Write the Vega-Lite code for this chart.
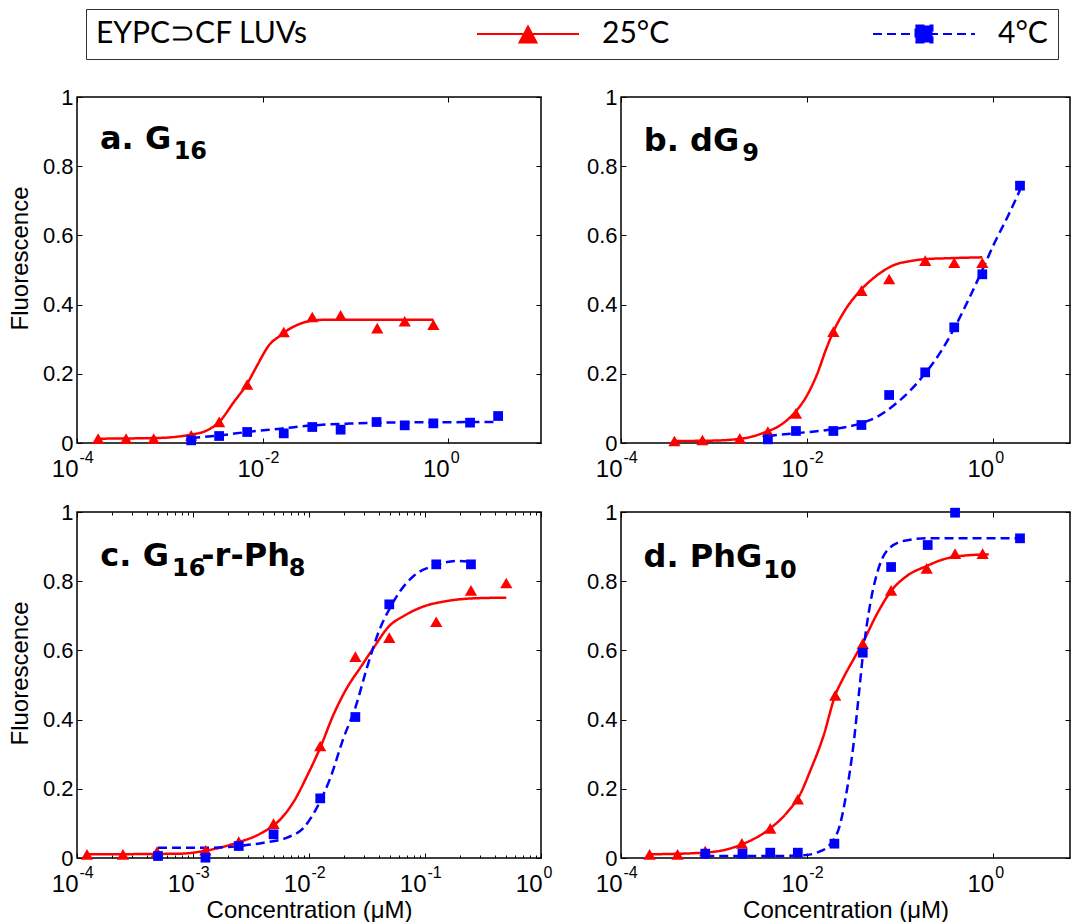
{
  "$schema": "https://vega.github.io/schema/vega-lite/v6.json",
  "background": "white",
  "padding": {"left": 7, "top": 8, "right": 0, "bottom": 0},
  "datasets": {
    "fits": [
      {"panel":"a","temp":"25°C","conc":0.000169,"F":0.0125},{"panel":"a","temp":"25°C","conc":0.000729,"F":0.0145},{"panel":"a","temp":"25°C","conc":0.00167,"F":0.024},{"panel":"a","temp":"25°C","conc":0.00252,"F":0.0366},{"panel":"a","temp":"25°C","conc":0.0034,"F":0.0607},{"panel":"a","temp":"25°C","conc":0.0049,"F":0.1185},{"panel":"a","temp":"25°C","conc":0.00682,"F":0.1715},{"panel":"a","temp":"25°C","conc":0.00875,"F":0.2245},{"panel":"a","temp":"25°C","conc":0.0117,"F":0.2823},{"panel":"a","temp":"25°C","conc":0.0156,"F":0.311},{"panel":"a","temp":"25°C","conc":0.0184,"F":0.3256},{"panel":"a","temp":"25°C","conc":0.0256,"F":0.3449},{"panel":"a","temp":"25°C","conc":0.0357,"F":0.3545},{"panel":"a","temp":"25°C","conc":0.0541,"F":0.3565},{"panel":"a","temp":"25°C","conc":0.692,"F":0.3565},
      {"panel":"a","temp":"4°C","conc":0.0017,"F":0.0145},{"panel":"a","temp":"4°C","conc":0.00352,"F":0.0222},{"panel":"a","temp":"4°C","conc":0.00682,"F":0.0318},{"panel":"a","temp":"4°C","conc":0.0156,"F":0.0414},{"panel":"a","temp":"4°C","conc":0.0357,"F":0.0511},{"panel":"a","temp":"4°C","conc":0.0818,"F":0.0559},{"panel":"a","temp":"4°C","conc":0.187,"F":0.0588},{"panel":"a","temp":"4°C","conc":3.45,"F":0.0607},
      {"panel":"b","temp":"25°C","conc":0.000376,"F":0.0058},{"panel":"b","temp":"25°C","conc":0.000918,"F":0.0067},{"panel":"b","temp":"25°C","conc":0.0021,"F":0.0135},{"panel":"b","temp":"25°C","conc":0.00345,"F":0.0299},{"panel":"b","temp":"25°C","conc":0.00522,"F":0.052},{"panel":"b","temp":"25°C","conc":0.00728,"F":0.0857},{"panel":"b","temp":"25°C","conc":0.0101,"F":0.1387},{"panel":"b","temp":"25°C","conc":0.013,"F":0.2013},{"panel":"b","temp":"25°C","conc":0.016,"F":0.2688},{"panel":"b","temp":"25°C","conc":0.0193,"F":0.3218},{"panel":"b","temp":"25°C","conc":0.0252,"F":0.3796},{"panel":"b","temp":"25°C","conc":0.0387,"F":0.4441},{"panel":"b","temp":"25°C","conc":0.0575,"F":0.4855},{"panel":"b","temp":"25°C","conc":0.0871,"F":0.5145},{"panel":"b","temp":"25°C","conc":0.1315,"F":0.526},{"panel":"b","temp":"25°C","conc":0.199,"F":0.5318},{"panel":"b","temp":"25°C","conc":0.301,"F":0.5337},{"panel":"b","temp":"25°C","conc":0.774,"F":0.5366},
      {"panel":"b","temp":"4°C","conc":0.00381,"F":0.0202},{"panel":"b","temp":"4°C","conc":0.00728,"F":0.0279},{"panel":"b","temp":"4°C","conc":0.0166,"F":0.0376},{"panel":"b","temp":"4°C","conc":0.038,"F":0.0568},{"panel":"b","temp":"4°C","conc":0.0575,"F":0.0761},{"panel":"b","temp":"4°C","conc":0.0871,"F":0.1098},{"panel":"b","temp":"4°C","conc":0.1315,"F":0.1532},{"panel":"b","temp":"4°C","conc":0.188,"F":0.2013},{"panel":"b","temp":"4°C","conc":0.277,"F":0.264},{"panel":"b","temp":"4°C","conc":0.386,"F":0.3314},{"panel":"b","temp":"4°C","conc":0.537,"F":0.4085},{"panel":"b","temp":"4°C","conc":0.774,"F":0.5},{"panel":"b","temp":"4°C","conc":1.042,"F":0.5771},{"panel":"b","temp":"4°C","conc":1.45,"F":0.6541},{"panel":"b","temp":"4°C","conc":1.97,"F":0.7312},
      {"panel":"c","temp":"25°C","conc":0.000122,"F":0.0106},{"panel":"c","temp":"25°C","conc":0.000778,"F":0.0125},{"panel":"c","temp":"25°C","conc":0.00124,"F":0.0202},{"panel":"c","temp":"25°C","conc":0.00239,"F":0.0443},{"panel":"c","temp":"25°C","conc":0.0038,"F":0.0703},{"panel":"c","temp":"25°C","conc":0.00566,"F":0.1118},{"panel":"c","temp":"25°C","conc":0.00738,"F":0.1628},{"panel":"c","temp":"25°C","conc":0.00962,"F":0.237},{"panel":"c","temp":"25°C","conc":0.0125,"F":0.3189},{"panel":"c","temp":"25°C","conc":0.0163,"F":0.4152},{"panel":"c","temp":"25°C","conc":0.0213,"F":0.4923},{"panel":"c","temp":"25°C","conc":0.0277,"F":0.5501},{"panel":"c","temp":"25°C","conc":0.0361,"F":0.6079},{"panel":"c","temp":"25°C","conc":0.0492,"F":0.6705},{"panel":"c","temp":"25°C","conc":0.0655,"F":0.6994},{"panel":"c","temp":"25°C","conc":0.0912,"F":0.7235},{"panel":"c","temp":"25°C","conc":0.155,"F":0.7428},{"panel":"c","temp":"25°C","conc":0.263,"F":0.7505},{"panel":"c","temp":"25°C","conc":0.502,"F":0.7524},
      {"panel":"c","temp":"4°C","conc":0.000499,"F":0.0299},{"panel":"c","temp":"4°C","conc":0.00151,"F":0.0299},{"panel":"c","temp":"4°C","conc":0.00248,"F":0.0347},{"panel":"c","temp":"4°C","conc":0.00406,"F":0.0443},{"panel":"c","temp":"4°C","conc":0.00646,"F":0.0588},{"panel":"c","temp":"4°C","conc":0.009,"F":0.0877},{"panel":"c","temp":"4°C","conc":0.0117,"F":0.1455},{"panel":"c","temp":"4°C","conc":0.0153,"F":0.2322},{"panel":"c","temp":"4°C","conc":0.0199,"F":0.3478},{"panel":"c","temp":"4°C","conc":0.0251,"F":0.4345},{"panel":"c","temp":"4°C","conc":0.0316,"F":0.5501},{"panel":"c","temp":"4°C","conc":0.0412,"F":0.6657},{"panel":"c","temp":"4°C","conc":0.0492,"F":0.7187},{"panel":"c","temp":"4°C","conc":0.0612,"F":0.7717},{"panel":"c","temp":"4°C","conc":0.0798,"F":0.815},{"panel":"c","temp":"4°C","conc":0.125,"F":0.8468},{"panel":"c","temp":"4°C","conc":0.189,"F":0.8584},{"panel":"c","temp":"4°C","conc":0.249,"F":0.8565},
      {"panel":"d","temp":"25°C","conc":0.000203,"F":0.0106},{"panel":"d","temp":"25°C","conc":0.000774,"F":0.0154},{"panel":"d","temp":"25°C","conc":0.00138,"F":0.025},{"panel":"d","temp":"25°C","conc":0.002,"F":0.0395},{"panel":"d","temp":"25°C","conc":0.00404,"F":0.0857},{"panel":"d","temp":"25°C","conc":0.0061,"F":0.131},{"panel":"d","temp":"25°C","conc":0.00847,"F":0.184},{"panel":"d","temp":"25°C","conc":0.01086,"F":0.2514},{"panel":"d","temp":"25°C","conc":0.0151,"F":0.3526},{"panel":"d","temp":"25°C","conc":0.0202,"F":0.4701},{"panel":"d","temp":"25°C","conc":0.0248,"F":0.5212},{"panel":"d","temp":"25°C","conc":0.0318,"F":0.5742},{"panel":"d","temp":"25°C","conc":0.04,"F":0.6224},{"panel":"d","temp":"25°C","conc":0.0566,"F":0.7042},{"panel":"d","temp":"25°C","conc":0.0807,"F":0.7717},{"panel":"d","temp":"25°C","conc":0.119,"F":0.815},{"panel":"d","temp":"25°C","conc":0.195,"F":0.8439},{"panel":"d","temp":"25°C","conc":0.295,"F":0.8632},{"panel":"d","temp":"25°C","conc":0.446,"F":0.8728},{"panel":"d","temp":"25°C","conc":0.906,"F":0.8776},
      {"panel":"d","temp":"4°C","conc":0.000807,"F":0.0058},{"panel":"d","temp":"4°C","conc":0.00208,"F":0.0058},{"panel":"d","temp":"4°C","conc":0.00475,"F":0.0058},{"panel":"d","temp":"4°C","conc":0.0092,"F":0.0077},{"panel":"d","temp":"4°C","conc":0.0128,"F":0.0154},{"panel":"d","temp":"4°C","conc":0.0178,"F":0.0395},{"panel":"d","temp":"4°C","conc":0.0228,"F":0.0973},{"panel":"d","temp":"4°C","conc":0.0269,"F":0.1936},{"panel":"d","temp":"4°C","conc":0.0318,"F":0.3285},{"panel":"d","temp":"4°C","conc":0.036,"F":0.4634},{"panel":"d","temp":"4°C","conc":0.0406,"F":0.5983},{"panel":"d","temp":"4°C","conc":0.048,"F":0.7331},{"panel":"d","temp":"4°C","conc":0.0566,"F":0.8198},{"panel":"d","temp":"4°C","conc":0.0724,"F":0.8873},{"panel":"d","temp":"4°C","conc":0.109,"F":0.9162},{"panel":"d","temp":"4°C","conc":0.195,"F":0.9239},{"panel":"d","temp":"4°C","conc":1.97,"F":0.9239}
    ],
    "points": [
      {"panel":"a","temp":"25°C","conc":0.000169,"F":0.0125},{"panel":"a","temp":"25°C","conc":0.000338,"F":0.0125},{"panel":"a","temp":"25°C","conc":0.000671,"F":0.0125},{"panel":"a","temp":"25°C","conc":0.0017,"F":0.022},{"panel":"a","temp":"25°C","conc":0.0034,"F":0.061},{"panel":"a","temp":"25°C","conc":0.00682,"F":0.169},{"panel":"a","temp":"25°C","conc":0.0169,"F":0.321},{"panel":"a","temp":"25°C","conc":0.0343,"F":0.364},{"panel":"a","temp":"25°C","conc":0.0693,"F":0.369},{"panel":"a","temp":"25°C","conc":0.172,"F":0.332},{"panel":"a","temp":"25°C","conc":0.34,"F":0.352},{"panel":"a","temp":"25°C","conc":0.692,"F":0.342},
      {"panel":"a","temp":"4°C","conc":0.0017,"F":0.0077},{"panel":"a","temp":"4°C","conc":0.0034,"F":0.0202},{"panel":"a","temp":"4°C","conc":0.00682,"F":0.0318},{"panel":"a","temp":"4°C","conc":0.0169,"F":0.0279},{"panel":"a","temp":"4°C","conc":0.0343,"F":0.0462},{"panel":"a","temp":"4°C","conc":0.0693,"F":0.0385},{"panel":"a","temp":"4°C","conc":0.169,"F":0.0607},{"panel":"a","temp":"4°C","conc":0.34,"F":0.051},{"panel":"a","temp":"4°C","conc":0.692,"F":0.0568},{"panel":"a","temp":"4°C","conc":1.72,"F":0.0588},{"panel":"a","temp":"4°C","conc":3.45,"F":0.078},
      {"panel":"b","temp":"25°C","conc":0.000376,"F":0.0058},{"panel":"b","temp":"25°C","conc":0.000753,"F":0.0087},{"panel":"b","temp":"25°C","conc":0.0019,"F":0.0135},{"panel":"b","temp":"25°C","conc":0.00381,"F":0.0328},{"panel":"b","temp":"25°C","conc":0.00764,"F":0.0857},{"panel":"b","temp":"25°C","conc":0.0193,"F":0.3218},{"panel":"b","temp":"25°C","conc":0.0387,"F":0.4403},{"panel":"b","temp":"25°C","conc":0.0769,"F":0.474},{"panel":"b","temp":"25°C","conc":0.188,"F":0.527},{"panel":"b","temp":"25°C","conc":0.386,"F":0.521},{"panel":"b","temp":"25°C","conc":0.774,"F":0.521},
      {"panel":"b","temp":"4°C","conc":0.00381,"F":0.0106},{"panel":"b","temp":"4°C","conc":0.00764,"F":0.0347},{"panel":"b","temp":"4°C","conc":0.0193,"F":0.0347},{"panel":"b","temp":"4°C","conc":0.0387,"F":0.052},{"panel":"b","temp":"4°C","conc":0.0769,"F":0.1387},{"panel":"b","temp":"4°C","conc":0.188,"F":0.2042},{"panel":"b","temp":"4°C","conc":0.386,"F":0.3343},{"panel":"b","temp":"4°C","conc":0.774,"F":0.4875},{"panel":"b","temp":"4°C","conc":1.97,"F":0.7437},
      {"panel":"c","temp":"25°C","conc":0.000122,"F":0.0106},{"panel":"c","temp":"25°C","conc":0.000249,"F":0.0106},{"panel":"c","temp":"25°C","conc":0.00049,"F":0.0183},{"panel":"c","temp":"25°C","conc":0.00128,"F":0.0222},{"panel":"c","temp":"25°C","conc":0.00248,"F":0.0472},{"panel":"c","temp":"25°C","conc":0.00495,"F":0.0992},{"panel":"c","temp":"25°C","conc":0.0125,"F":0.3237},{"panel":"c","temp":"25°C","conc":0.0251,"F":0.5819},{"panel":"c","temp":"25°C","conc":0.0492,"F":0.6368},{"panel":"c","temp":"25°C","conc":0.125,"F":0.683},{"panel":"c","temp":"25°C","conc":0.249,"F":0.7736},{"panel":"c","temp":"25°C","conc":0.502,"F":0.7948},
      {"panel":"c","temp":"4°C","conc":0.000499,"F":0.0058},{"panel":"c","temp":"4°C","conc":0.00128,"F":0.001},{"panel":"c","temp":"4°C","conc":0.00248,"F":0.0347},{"panel":"c","temp":"4°C","conc":0.00495,"F":0.0684},{"panel":"c","temp":"4°C","conc":0.0125,"F":0.1724},{"panel":"c","temp":"4°C","conc":0.0251,"F":0.4075},{"panel":"c","temp":"4°C","conc":0.0492,"F":0.7331},{"panel":"c","temp":"4°C","conc":0.125,"F":0.8487},{"panel":"c","temp":"4°C","conc":0.249,"F":0.8487},
      {"panel":"d","temp":"25°C","conc":0.000203,"F":0.0106},{"panel":"d","temp":"25°C","conc":0.000406,"F":0.0106},{"panel":"d","temp":"25°C","conc":0.000807,"F":0.0202},{"panel":"d","temp":"25°C","conc":0.002,"F":0.0424},{"panel":"d","temp":"25°C","conc":0.00404,"F":0.0857},{"panel":"d","temp":"25°C","conc":0.008,"F":0.1696},{"panel":"d","temp":"25°C","conc":0.0202,"F":0.4701},{"panel":"d","temp":"25°C","conc":0.04,"F":0.6195},{"panel":"d","temp":"25°C","conc":0.0807,"F":0.7736},{"panel":"d","temp":"25°C","conc":0.195,"F":0.8372},{"panel":"d","temp":"25°C","conc":0.394,"F":0.8796},{"panel":"d","temp":"25°C","conc":0.78,"F":0.8796},
      {"panel":"d","temp":"4°C","conc":0.000807,"F":0.0125},{"panel":"d","temp":"4°C","conc":0.00203,"F":0.0125},{"panel":"d","temp":"4°C","conc":0.00404,"F":0.0154},{"panel":"d","temp":"4°C","conc":0.008,"F":0.0154},{"panel":"d","temp":"4°C","conc":0.0198,"F":0.0414},{"panel":"d","temp":"4°C","conc":0.04,"F":0.5934},{"panel":"d","temp":"4°C","conc":0.0807,"F":0.841},{"panel":"d","temp":"4°C","conc":0.2,"F":0.9046},{"panel":"d","temp":"4°C","conc":0.394,"F":0.998},{"panel":"d","temp":"4°C","conc":1.97,"F":0.9239}
    ],
    "labels": [
      {"panel":"a","t1":"a. G","t2":"16"},
      {"panel":"b","t1":"b. dG","t2":"9"},
      {"panel":"c","t1":"c. G","t2":"16","t3":"-r-Ph","t4":"8"},
      {"panel":"d","t1":"d. PhG","t2":"10"}
    ]
  },
  "concat": [
    {
      "width": 464, "height": 346,
      "layer": [
        {
          "data": {"name": "fits"}, "transform": [{"filter": "false"}],
          "mark": {"type": "point", "filled": true},
          "encoding": {
            "fill": {"field": "temp", "type": "nominal", "scale": {"domain": ["25°C", "4°C"], "range": ["#ff0000", "#0000ff"]},
                     "legend": {"orient": "none", "legendX": 9, "legendY": -88, "direction": "horizontal", "title": "EYPC⊃CF LUVs", "titleOrient": "left", "titleFont": "Lato", "titleFontSize": 30, "titleFontWeight": "normal", "titleColor": "black", "titlePadding": 205, "titleLimit": 500, "labelFont": "Lato", "labelFontSize": 30, "labelColor": "black", "labelOffset": 59, "labelLimit": 300, "symbolSize": 400, "symbolStrokeWidth": 2, "symbolOpacity": 1, "columnPadding": 199, "padding": 10, "strokeColor": "#333333", "fillColor": "white"}},
            "stroke": {"field": "temp", "type": "nominal", "scale": {"domain": ["25°C", "4°C"], "range": ["#ff0000", "#0000ff"]},
                     "legend": {"orient": "none", "legendX": 9, "legendY": -88, "direction": "horizontal", "title": "EYPC⊃CF LUVs", "titleOrient": "left", "titleFont": "Lato", "titleFontSize": 30, "titleFontWeight": "normal", "titleColor": "black", "titlePadding": 205, "titleLimit": 500, "labelFont": "Lato", "labelFontSize": 30, "labelColor": "black", "labelOffset": 59, "labelLimit": 300, "symbolSize": 400, "symbolStrokeWidth": 2, "symbolOpacity": 1, "columnPadding": 199, "padding": 10, "strokeColor": "#333333", "fillColor": "white"}},
            "shape": {"field": "temp", "type": "nominal", "scale": {"domain": ["25°C", "4°C"], "range": ["M-5.1,0L5.1,0M0,-0.75L0.85,0.85L-0.85,0.85Z", "M-5.1,0L5.1,0M-0.85,-0.85L0.85,-0.85L0.85,0.85L-0.85,0.85Z"]},
                     "legend": {"orient": "none", "legendX": 9, "legendY": -88, "direction": "horizontal", "title": "EYPC⊃CF LUVs", "titleOrient": "left", "titleFont": "Lato", "titleFontSize": 30, "titleFontWeight": "normal", "titleColor": "black", "titlePadding": 205, "titleLimit": 500, "labelFont": "Lato", "labelFontSize": 30, "labelColor": "black", "labelOffset": 59, "labelLimit": 300, "symbolSize": 400, "symbolStrokeWidth": 2, "symbolOpacity": 1, "columnPadding": 199, "padding": 10, "strokeColor": "#333333", "fillColor": "white"}},
            "strokeDash": {"field": "temp", "type": "nominal", "scale": {"domain": ["25°C", "4°C"], "range": [[1, 0], [9, 5]]},
                     "legend": {"orient": "none", "legendX": 9, "legendY": -88, "direction": "horizontal", "title": "EYPC⊃CF LUVs", "titleOrient": "left", "titleFont": "Lato", "titleFontSize": 30, "titleFontWeight": "normal", "titleColor": "black", "titlePadding": 205, "titleLimit": 500, "labelFont": "Lato", "labelFontSize": 30, "labelColor": "black", "labelOffset": 59, "labelLimit": 300, "symbolSize": 400, "symbolStrokeWidth": 2, "symbolOpacity": 1, "columnPadding": 199, "padding": 10, "strokeColor": "#333333", "fillColor": "white"}}
          }
        },
        {
          "data": {"name": "fits"}, "transform": [{"filter": "datum.panel === 'a'"}],
          "mark": {"type": "line", "strokeWidth": 2.5, "interpolate": "monotone"},
          "encoding": {
            "x": {"field": "conc", "type": "quantitative", "scale": {"type": "log", "domain": [0.0001, 10], "nice": false},
                  "axis": {"orient": "bottom", "values": [0.0001, 0.01, 1], "tickSize": -5, "labelExpr": "'10'", "labelAlign": "right", "labelOffset": 1, "labelFont": "Liberation Sans Narrow, Liberation Sans", "labelFontSize": 24, "labelPadding": 19, "title": null}},
            "y": {"field": "F", "type": "quantitative", "scale": {"domain": [0, 1], "nice": false, "zero": false},
                  "axis": {"orient": "left", "values": [0, 0.2, 0.4, 0.6, 0.8, 1], "format": "~g", "tickSize": -5, "labelFontSize": 22, "labelPadding": 9, "title": "Fluorescence", "titleFont": "Liberation Sans Narrow, Liberation Sans", "titleFontSize": 24, "titlePadding": 10, "titleY": 161}},
            "color": {"field": "temp", "type": "nominal", "scale": {"domain": ["25°C", "4°C"], "range": ["#ff0000", "#0000ff"]}, "legend": null},
            "strokeDash": {"field": "temp", "type": "nominal", "scale": {"domain": ["25°C", "4°C"], "range": [[1, 0], [9, 5]]}, "legend": null}
          }
        },
        {
          "data": {"name": "points"}, "transform": [{"filter": "datum.panel === 'a' && datum.temp === '25°C'"}],
          "mark": {"type": "point", "shape": "triangle-up", "size": 150, "filled": true, "opacity": 1, "strokeWidth": 0},
          "encoding": {
            "x": {"field": "conc", "type": "quantitative", "scale": {"type": "log", "domain": [0.0001, 10], "nice": false}, "axis": null},
            "y": {"field": "F", "type": "quantitative", "scale": {"domain": [0, 1], "nice": false, "zero": false}, "axis": null},
            "color": {"field": "temp", "type": "nominal", "scale": {"domain": ["25°C", "4°C"], "range": ["#ff0000", "#0000ff"]}, "legend": null}
          }
        },
        {
          "data": {"name": "points"}, "transform": [{"filter": "datum.panel === 'a' && datum.temp === '4°C'"}],
          "mark": {"type": "point", "shape": "square", "size": 95, "filled": true, "opacity": 1, "strokeWidth": 0},
          "encoding": {
            "x": {"field": "conc", "type": "quantitative", "scale": {"type": "log", "domain": [0.0001, 10], "nice": false}, "axis": null},
            "y": {"field": "F", "type": "quantitative", "scale": {"domain": [0, 1], "nice": false, "zero": false}, "axis": null},
            "color": {"field": "temp", "type": "nominal", "scale": {"domain": ["25°C", "4°C"], "range": ["#ff0000", "#0000ff"]}, "legend": null}
          }
        },
        {
          "data": {"name": "fits"}, "transform": [{"filter": "datum.panel === 'a'"}],
          "mark": {"type": "point", "opacity": 0},
          "encoding": {
            "x": {"field": "conc", "type": "quantitative", "scale": {"type": "log", "domain": [0.0001, 10], "nice": false},
                  "axis": {"orient": "top", "values": [0.0001, 0.01, 1], "tickSize": -5, "labels": false, "title": null}},
            "y": {"field": "F", "type": "quantitative", "scale": {"domain": [0, 1], "nice": false, "zero": false},
                  "axis": {"orient": "right", "values": [0, 0.2, 0.4, 0.6, 0.8, 1], "tickSize": -5, "labels": false, "title": null}}
          }
        },
        {
          "data": {"name": "fits"}, "transform": [{"filter": "datum.panel === 'a'"}],
          "mark": {"type": "point", "opacity": 0},
          "encoding": {
            "x": {"field": "conc", "type": "quantitative", "scale": {"type": "log", "domain": [0.0001, 10], "nice": false},
                  "axis": {"orient": "bottom", "values": [0.0001, 0.01, 1], "ticks": false, "labelExpr": "'' + round(log(datum.value) / LN10)", "labelAlign": "left", "labelOffset": 2, "labelFontSize": 16, "labelPadding": 6, "title": null}},
            "y": {"field": "F", "type": "quantitative", "scale": {"domain": [0, 1], "nice": false, "zero": false}, "axis": null}
          }
        },
        {
          "data": {"name": "labels"}, "transform": [{"filter": "datum.panel === 'a'"}],
          "mark": {"type": "text", "font": "DejaVu Sans", "fontWeight": "bold", "fontSize": 32, "align": "left", "baseline": "alphabetic", "color": "black"},
          "encoding": {
            "x": {"datum": 0.000177, "type": "quantitative", "scale": {"type": "log", "domain": [0.0001, 10], "nice": false}, "axis": null},
            "y": {"datum": 0.85, "type": "quantitative", "scale": {"domain": [0, 1], "nice": false, "zero": false}, "axis": null},
            "text": {"field": "t1"}
          }
        },
        {
          "data": {"name": "labels"}, "transform": [{"filter": "datum.panel === 'a'"}],
          "mark": {"type": "text", "font": "DejaVu Sans", "fontWeight": "bold", "fontSize": 24, "align": "left", "baseline": "alphabetic", "color": "black"},
          "encoding": {
            "x": {"datum": 0.0011, "type": "quantitative", "scale": {"type": "log", "domain": [0.0001, 10], "nice": false}, "axis": null},
            "y": {"datum": 0.82, "type": "quantitative", "scale": {"domain": [0, 1], "nice": false, "zero": false}, "axis": null},
            "text": {"field": "t2"}
          }
        }
      ],
      "resolve": {"axis": {"x": "independent", "y": "independent"}}
    },
    {
      "width": 449, "height": 346,
      "layer": [
        {
          "data": {"name": "fits"}, "transform": [{"filter": "datum.panel === 'b'"}],
          "mark": {"type": "line", "strokeWidth": 2.5, "interpolate": "monotone"},
          "encoding": {
            "x": {"field": "conc", "type": "quantitative", "scale": {"type": "log", "domain": [0.0001, 6.8], "nice": false},
                  "axis": {"orient": "bottom", "values": [0.0001, 0.01, 1], "tickSize": -5, "labelExpr": "'10'", "labelAlign": "right", "labelOffset": 1, "labelFont": "Liberation Sans Narrow, Liberation Sans", "labelFontSize": 24, "labelPadding": 19, "title": null}},
            "y": {"field": "F", "type": "quantitative", "scale": {"domain": [0, 1], "nice": false, "zero": false},
                  "axis": {"orient": "left", "values": [0, 0.2, 0.4, 0.6, 0.8, 1], "format": "~g", "tickSize": -5, "labelFontSize": 22, "labelPadding": 9, "title": null}},
            "color": {"field": "temp", "type": "nominal", "scale": {"domain": ["25°C", "4°C"], "range": ["#ff0000", "#0000ff"]}, "legend": null},
            "strokeDash": {"field": "temp", "type": "nominal", "scale": {"domain": ["25°C", "4°C"], "range": [[1, 0], [9, 5]]}, "legend": null}
          }
        },
        {
          "data": {"name": "points"}, "transform": [{"filter": "datum.panel === 'b' && datum.temp === '25°C'"}],
          "mark": {"type": "point", "shape": "triangle-up", "size": 150, "filled": true, "opacity": 1, "strokeWidth": 0},
          "encoding": {
            "x": {"field": "conc", "type": "quantitative", "scale": {"type": "log", "domain": [0.0001, 6.8], "nice": false}, "axis": null},
            "y": {"field": "F", "type": "quantitative", "scale": {"domain": [0, 1], "nice": false, "zero": false}, "axis": null},
            "color": {"field": "temp", "type": "nominal", "scale": {"domain": ["25°C", "4°C"], "range": ["#ff0000", "#0000ff"]}, "legend": null}
          }
        },
        {
          "data": {"name": "points"}, "transform": [{"filter": "datum.panel === 'b' && datum.temp === '4°C'"}],
          "mark": {"type": "point", "shape": "square", "size": 95, "filled": true, "opacity": 1, "strokeWidth": 0},
          "encoding": {
            "x": {"field": "conc", "type": "quantitative", "scale": {"type": "log", "domain": [0.0001, 6.8], "nice": false}, "axis": null},
            "y": {"field": "F", "type": "quantitative", "scale": {"domain": [0, 1], "nice": false, "zero": false}, "axis": null},
            "color": {"field": "temp", "type": "nominal", "scale": {"domain": ["25°C", "4°C"], "range": ["#ff0000", "#0000ff"]}, "legend": null}
          }
        },
        {
          "data": {"name": "fits"}, "transform": [{"filter": "datum.panel === 'b'"}],
          "mark": {"type": "point", "opacity": 0},
          "encoding": {
            "x": {"field": "conc", "type": "quantitative", "scale": {"type": "log", "domain": [0.0001, 6.8], "nice": false},
                  "axis": {"orient": "top", "values": [0.0001, 0.01, 1], "tickSize": -5, "labels": false, "title": null}},
            "y": {"field": "F", "type": "quantitative", "scale": {"domain": [0, 1], "nice": false, "zero": false},
                  "axis": {"orient": "right", "values": [0, 0.2, 0.4, 0.6, 0.8, 1], "tickSize": -5, "labels": false, "title": null}}
          }
        },
        {
          "data": {"name": "fits"}, "transform": [{"filter": "datum.panel === 'b'"}],
          "mark": {"type": "point", "opacity": 0},
          "encoding": {
            "x": {"field": "conc", "type": "quantitative", "scale": {"type": "log", "domain": [0.0001, 6.8], "nice": false},
                  "axis": {"orient": "bottom", "values": [0.0001, 0.01, 1], "ticks": false, "labelExpr": "'' + round(log(datum.value) / LN10)", "labelAlign": "left", "labelOffset": 2, "labelFontSize": 16, "labelPadding": 6, "title": null}},
            "y": {"field": "F", "type": "quantitative", "scale": {"domain": [0, 1], "nice": false, "zero": false}, "axis": null}
          }
        },
        {
          "data": {"name": "labels"}, "transform": [{"filter": "datum.panel === 'b'"}],
          "mark": {"type": "text", "font": "DejaVu Sans", "fontWeight": "bold", "fontSize": 32, "align": "left", "baseline": "alphabetic", "color": "black"},
          "encoding": {
            "x": {"datum": 0.000176, "type": "quantitative", "scale": {"type": "log", "domain": [0.0001, 6.8], "nice": false}, "axis": null},
            "y": {"datum": 0.844, "type": "quantitative", "scale": {"domain": [0, 1], "nice": false, "zero": false}, "axis": null},
            "text": {"field": "t1"}
          }
        },
        {
          "data": {"name": "labels"}, "transform": [{"filter": "datum.panel === 'b'"}],
          "mark": {"type": "text", "font": "DejaVu Sans", "fontWeight": "bold", "fontSize": 24, "align": "left", "baseline": "alphabetic", "color": "black"},
          "encoding": {
            "x": {"datum": 0.00202, "type": "quantitative", "scale": {"type": "log", "domain": [0.0001, 6.8], "nice": false}, "axis": null},
            "y": {"datum": 0.815, "type": "quantitative", "scale": {"domain": [0, 1], "nice": false, "zero": false}, "axis": null},
            "text": {"field": "t2"}
          }
        }
      ],
      "resolve": {"axis": {"x": "independent", "y": "independent"}}
    },
    {
      "width": 464, "height": 346,
      "layer": [
        {
          "data": {"name": "fits"}, "transform": [{"filter": "datum.panel === 'c'"}],
          "mark": {"type": "line", "strokeWidth": 2.5, "interpolate": "monotone"},
          "encoding": {
            "x": {"field": "conc", "type": "quantitative", "scale": {"type": "log", "domain": [0.0001, 1], "nice": false},
                  "axis": {"orient": "bottom", "values": [0.0001, 0.001, 0.01, 0.1, 1], "tickSize": -5, "labelExpr": "'10'", "labelAlign": "right", "labelOffset": 1, "labelFont": "Liberation Sans Narrow, Liberation Sans", "labelFontSize": 24, "labelPadding": 19, "title": "Concentration (μM)", "titleFontSize": 24, "titlePadding": 2}},
            "y": {"field": "F", "type": "quantitative", "scale": {"domain": [0, 1], "nice": false, "zero": false},
                  "axis": {"orient": "left", "values": [0, 0.2, 0.4, 0.6, 0.8, 1], "format": "~g", "tickSize": -5, "labelFontSize": 22, "labelPadding": 9, "title": "Fluorescence", "titleFont": "Liberation Sans Narrow, Liberation Sans", "titleFontSize": 24, "titlePadding": 10, "titleY": 161}},
            "color": {"field": "temp", "type": "nominal", "scale": {"domain": ["25°C", "4°C"], "range": ["#ff0000", "#0000ff"]}, "legend": null},
            "strokeDash": {"field": "temp", "type": "nominal", "scale": {"domain": ["25°C", "4°C"], "range": [[1, 0], [9, 5]]}, "legend": null}
          }
        },
        {
          "data": {"name": "points"}, "transform": [{"filter": "datum.panel === 'c' && datum.temp === '25°C'"}],
          "mark": {"type": "point", "shape": "triangle-up", "size": 150, "filled": true, "opacity": 1, "strokeWidth": 0},
          "encoding": {
            "x": {"field": "conc", "type": "quantitative", "scale": {"type": "log", "domain": [0.0001, 1], "nice": false}, "axis": null},
            "y": {"field": "F", "type": "quantitative", "scale": {"domain": [0, 1], "nice": false, "zero": false}, "axis": null},
            "color": {"field": "temp", "type": "nominal", "scale": {"domain": ["25°C", "4°C"], "range": ["#ff0000", "#0000ff"]}, "legend": null}
          }
        },
        {
          "data": {"name": "points"}, "transform": [{"filter": "datum.panel === 'c' && datum.temp === '4°C'"}],
          "mark": {"type": "point", "shape": "square", "size": 95, "filled": true, "opacity": 1, "strokeWidth": 0},
          "encoding": {
            "x": {"field": "conc", "type": "quantitative", "scale": {"type": "log", "domain": [0.0001, 1], "nice": false}, "axis": null},
            "y": {"field": "F", "type": "quantitative", "scale": {"domain": [0, 1], "nice": false, "zero": false}, "axis": null},
            "color": {"field": "temp", "type": "nominal", "scale": {"domain": ["25°C", "4°C"], "range": ["#ff0000", "#0000ff"]}, "legend": null}
          }
        },
        {
          "data": {"name": "fits"}, "transform": [{"filter": "datum.panel === 'c'"}],
          "mark": {"type": "point", "opacity": 0},
          "encoding": {
            "x": {"field": "conc", "type": "quantitative", "scale": {"type": "log", "domain": [0.0001, 1], "nice": false},
                  "axis": {"orient": "top", "values": [0.0001, 0.001, 0.01, 0.1, 1], "tickSize": -5, "labels": false, "title": null}},
            "y": {"field": "F", "type": "quantitative", "scale": {"domain": [0, 1], "nice": false, "zero": false},
                  "axis": {"orient": "right", "values": [0, 0.2, 0.4, 0.6, 0.8, 1], "tickSize": -5, "labels": false, "title": null}}
          }
        },
        {
          "data": {"name": "fits"}, "transform": [{"filter": "datum.panel === 'c'"}],
          "mark": {"type": "point", "opacity": 0},
          "encoding": {
            "x": {"field": "conc", "type": "quantitative", "scale": {"type": "log", "domain": [0.0001, 1], "nice": false},
                  "axis": {"orient": "bottom", "values": [0.0001, 0.001, 0.01, 0.1, 1], "ticks": false, "labelExpr": "'' + round(log(datum.value) / LN10)", "labelAlign": "left", "labelOffset": 2, "labelFontSize": 16, "labelPadding": 6, "title": null}},
            "y": {"field": "F", "type": "quantitative", "scale": {"domain": [0, 1], "nice": false, "zero": false}, "axis": null}
          }
        },
        {
          "data": {"name": "fits"}, "transform": [{"filter": "datum.panel === 'c'"}],
          "mark": {"type": "point", "opacity": 0},
          "encoding": {
            "x": {"field": "conc", "type": "quantitative", "scale": {"type": "log", "domain": [0.0001, 1], "nice": false},
                  "axis": {"orient": "bottom", "values": [0.0002,0.0003,0.0004,0.0005,0.0006,0.0007,0.0008,0.0009,0.002,0.003,0.004,0.005,0.006,0.007,0.008,0.009,0.02,0.03,0.04,0.05,0.06,0.07,0.08,0.09,0.2,0.3,0.4,0.5,0.6,0.7,0.8,0.9], "tickSize": -3, "labels": false, "title": null}},
            "y": {"field": "F", "type": "quantitative", "scale": {"domain": [0, 1], "nice": false, "zero": false}, "axis": null}
          }
        },
        {
          "data": {"name": "fits"}, "transform": [{"filter": "datum.panel === 'c'"}],
          "mark": {"type": "point", "opacity": 0},
          "encoding": {
            "x": {"field": "conc", "type": "quantitative", "scale": {"type": "log", "domain": [0.0001, 1], "nice": false},
                  "axis": {"orient": "top", "values": [0.0002,0.0003,0.0004,0.0005,0.0006,0.0007,0.0008,0.0009,0.002,0.003,0.004,0.005,0.006,0.007,0.008,0.009,0.02,0.03,0.04,0.05,0.06,0.07,0.08,0.09,0.2,0.3,0.4,0.5,0.6,0.7,0.8,0.9], "tickSize": -3, "labels": false, "title": null}},
            "y": {"field": "F", "type": "quantitative", "scale": {"domain": [0, 1], "nice": false, "zero": false}, "axis": null}
          }
        },
        {
          "data": {"name": "labels"}, "transform": [{"filter": "datum.panel === 'c'"}],
          "mark": {"type": "text", "font": "DejaVu Sans", "fontWeight": "bold", "fontSize": 32, "align": "left", "baseline": "alphabetic", "color": "black"},
          "encoding": {
            "x": {"datum": 0.000159, "type": "quantitative", "scale": {"type": "log", "domain": [0.0001, 1], "nice": false}, "axis": null},
            "y": {"datum": 0.844, "type": "quantitative", "scale": {"domain": [0, 1], "nice": false, "zero": false}, "axis": null},
            "text": {"field": "t1"}
          }
        },
        {
          "data": {"name": "labels"}, "transform": [{"filter": "datum.panel === 'c'"}],
          "mark": {"type": "text", "font": "DejaVu Sans", "fontWeight": "bold", "fontSize": 24, "align": "left", "baseline": "alphabetic", "color": "black"},
          "encoding": {
            "x": {"datum": 0.000659, "type": "quantitative", "scale": {"type": "log", "domain": [0.0001, 1], "nice": false}, "axis": null},
            "y": {"datum": 0.815, "type": "quantitative", "scale": {"domain": [0, 1], "nice": false, "zero": false}, "axis": null},
            "text": {"field": "t2"}
          }
        },
        {
          "data": {"name": "labels"}, "transform": [{"filter": "datum.panel === 'c'"}],
          "mark": {"type": "text", "font": "DejaVu Sans", "fontWeight": "bold", "fontSize": 32, "align": "left", "baseline": "alphabetic", "color": "black"},
          "encoding": {
            "x": {"datum": 0.00118, "type": "quantitative", "scale": {"type": "log", "domain": [0.0001, 1], "nice": false}, "axis": null},
            "y": {"datum": 0.844, "type": "quantitative", "scale": {"domain": [0, 1], "nice": false, "zero": false}, "axis": null},
            "text": {"field": "t3"}
          }
        },
        {
          "data": {"name": "labels"}, "transform": [{"filter": "datum.panel === 'c'"}],
          "mark": {"type": "text", "font": "DejaVu Sans", "fontWeight": "bold", "fontSize": 24, "align": "left", "baseline": "alphabetic", "color": "black"},
          "encoding": {
            "x": {"datum": 0.00669, "type": "quantitative", "scale": {"type": "log", "domain": [0.0001, 1], "nice": false}, "axis": null},
            "y": {"datum": 0.815, "type": "quantitative", "scale": {"domain": [0, 1], "nice": false, "zero": false}, "axis": null},
            "text": {"field": "t4"}
          }
        }
      ],
      "resolve": {"axis": {"x": "independent", "y": "independent"}}
    },
    {
      "width": 449, "height": 346,
      "layer": [
        {
          "data": {"name": "fits"}, "transform": [{"filter": "datum.panel === 'd'"}],
          "mark": {"type": "line", "strokeWidth": 2.5, "interpolate": "monotone"},
          "encoding": {
            "x": {"field": "conc", "type": "quantitative", "scale": {"type": "log", "domain": [0.0001, 6.8], "nice": false},
                  "axis": {"orient": "bottom", "values": [0.0001, 0.01, 1], "tickSize": -5, "labelExpr": "'10'", "labelAlign": "right", "labelOffset": 1, "labelFont": "Liberation Sans Narrow, Liberation Sans", "labelFontSize": 24, "labelPadding": 19, "title": "Concentration (μM)", "titleFontSize": 24, "titlePadding": 2}},
            "y": {"field": "F", "type": "quantitative", "scale": {"domain": [0, 1], "nice": false, "zero": false},
                  "axis": {"orient": "left", "values": [0, 0.2, 0.4, 0.6, 0.8, 1], "format": "~g", "tickSize": -5, "labelFontSize": 22, "labelPadding": 9, "title": null}},
            "color": {"field": "temp", "type": "nominal", "scale": {"domain": ["25°C", "4°C"], "range": ["#ff0000", "#0000ff"]}, "legend": null},
            "strokeDash": {"field": "temp", "type": "nominal", "scale": {"domain": ["25°C", "4°C"], "range": [[1, 0], [9, 5]]}, "legend": null}
          }
        },
        {
          "data": {"name": "points"}, "transform": [{"filter": "datum.panel === 'd' && datum.temp === '25°C'"}],
          "mark": {"type": "point", "shape": "triangle-up", "size": 150, "filled": true, "opacity": 1, "strokeWidth": 0},
          "encoding": {
            "x": {"field": "conc", "type": "quantitative", "scale": {"type": "log", "domain": [0.0001, 6.8], "nice": false}, "axis": null},
            "y": {"field": "F", "type": "quantitative", "scale": {"domain": [0, 1], "nice": false, "zero": false}, "axis": null},
            "color": {"field": "temp", "type": "nominal", "scale": {"domain": ["25°C", "4°C"], "range": ["#ff0000", "#0000ff"]}, "legend": null}
          }
        },
        {
          "data": {"name": "points"}, "transform": [{"filter": "datum.panel === 'd' && datum.temp === '4°C'"}],
          "mark": {"type": "point", "shape": "square", "size": 95, "filled": true, "opacity": 1, "strokeWidth": 0},
          "encoding": {
            "x": {"field": "conc", "type": "quantitative", "scale": {"type": "log", "domain": [0.0001, 6.8], "nice": false}, "axis": null},
            "y": {"field": "F", "type": "quantitative", "scale": {"domain": [0, 1], "nice": false, "zero": false}, "axis": null},
            "color": {"field": "temp", "type": "nominal", "scale": {"domain": ["25°C", "4°C"], "range": ["#ff0000", "#0000ff"]}, "legend": null}
          }
        },
        {
          "data": {"name": "fits"}, "transform": [{"filter": "datum.panel === 'd'"}],
          "mark": {"type": "point", "opacity": 0},
          "encoding": {
            "x": {"field": "conc", "type": "quantitative", "scale": {"type": "log", "domain": [0.0001, 6.8], "nice": false},
                  "axis": {"orient": "top", "values": [0.0001, 0.01, 1], "tickSize": -5, "labels": false, "title": null}},
            "y": {"field": "F", "type": "quantitative", "scale": {"domain": [0, 1], "nice": false, "zero": false},
                  "axis": {"orient": "right", "values": [0, 0.2, 0.4, 0.6, 0.8, 1], "tickSize": -5, "labels": false, "title": null}}
          }
        },
        {
          "data": {"name": "fits"}, "transform": [{"filter": "datum.panel === 'd'"}],
          "mark": {"type": "point", "opacity": 0},
          "encoding": {
            "x": {"field": "conc", "type": "quantitative", "scale": {"type": "log", "domain": [0.0001, 6.8], "nice": false},
                  "axis": {"orient": "bottom", "values": [0.0001, 0.01, 1], "ticks": false, "labelExpr": "'' + round(log(datum.value) / LN10)", "labelAlign": "left", "labelOffset": 2, "labelFontSize": 16, "labelPadding": 6, "title": null}},
            "y": {"field": "F", "type": "quantitative", "scale": {"domain": [0, 1], "nice": false, "zero": false}, "axis": null}
          }
        },
        {
          "data": {"name": "labels"}, "transform": [{"filter": "datum.panel === 'd'"}],
          "mark": {"type": "text", "font": "DejaVu Sans", "fontWeight": "bold", "fontSize": 32, "align": "left", "baseline": "alphabetic", "color": "black"},
          "encoding": {
            "x": {"datum": 0.000175, "type": "quantitative", "scale": {"type": "log", "domain": [0.0001, 6.8], "nice": false}, "axis": null},
            "y": {"datum": 0.841, "type": "quantitative", "scale": {"domain": [0, 1], "nice": false, "zero": false}, "axis": null},
            "text": {"field": "t1"}
          }
        },
        {
          "data": {"name": "labels"}, "transform": [{"filter": "datum.panel === 'd'"}],
          "mark": {"type": "text", "font": "DejaVu Sans", "fontWeight": "bold", "fontSize": 24, "align": "left", "baseline": "alphabetic", "color": "black"},
          "encoding": {
            "x": {"datum": 0.0034, "type": "quantitative", "scale": {"type": "log", "domain": [0.0001, 6.8], "nice": false}, "axis": null},
            "y": {"datum": 0.81, "type": "quantitative", "scale": {"domain": [0, 1], "nice": false, "zero": false}, "axis": null},
            "text": {"field": "t2"}
          }
        }
      ],
      "resolve": {"axis": {"x": "independent", "y": "independent"}}
    }
  ],
  "columns": 2,
  "spacing": {"row": 69, "column": 80},
  "bounds": "flush",
  "config": {
    "font": "Liberation Sans",
    "view": {"stroke": "black", "strokeWidth": 1.5},
    "axis": {"tickColor": "black", "tickWidth": 1, "labelColor": "black", "titleColor": "black", "titleFontWeight": "normal", "titleFont": "Liberation Sans", "labelFont": "Liberation Sans", "grid": false, "domain": false, "labelFlush": false, "labelOverlap": false}
  }
}
